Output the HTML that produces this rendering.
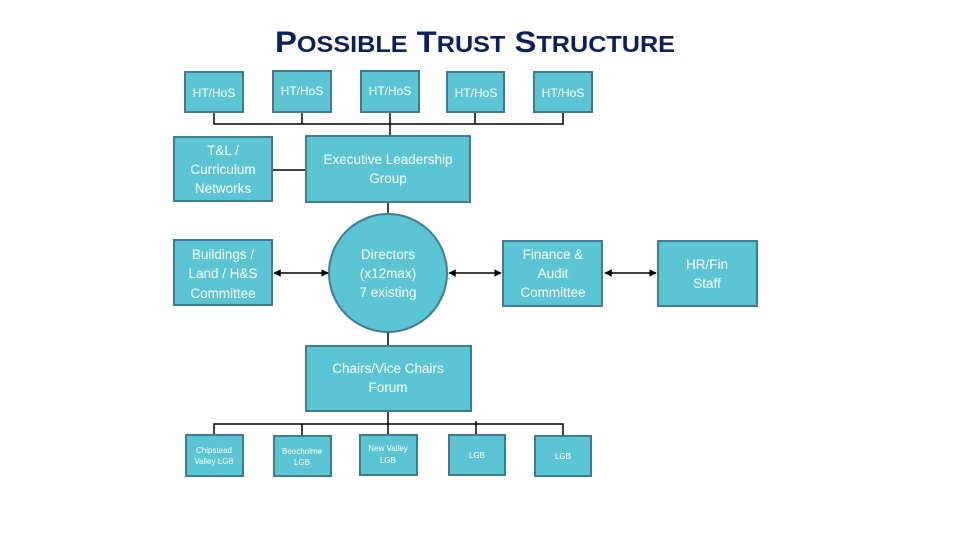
<!DOCTYPE html>
<html><head><meta charset="utf-8"><style>
html,body{margin:0;padding:0;background:#fff;width:960px;height:540px;overflow:hidden}
svg{display:block}
text{font-family:"Liberation Sans",sans-serif;fill:#fff;text-anchor:middle}
.b{fill:#5bc5d4;stroke:#3d7c93;stroke-width:2}
.l{stroke:#000;stroke-width:1.5;fill:none}
</style></head><body>
<svg width="960" height="540" viewBox="0 0 960 540">
<defs>
<marker id="a" viewBox="0 0 10 10" refX="9" refY="5" markerWidth="5" markerHeight="5" orient="auto-start-reverse"><path d="M0,0L10,5L0,10z" fill="#000"/></marker>
</defs>
<text x="475" y="52" style="fill:#0d1f5a;font-weight:bold;font-size:30px" textLength="400" lengthAdjust="spacingAndGlyphs">P<tspan font-size="23">OSSIBLE</tspan> T<tspan font-size="23">RUST</tspan> S<tspan font-size="23">TRUCTURE</tspan></text>

<!-- top bus -->
<path class="l" d="M214 112V124H563V112M302 112V124M390 112V136M475 112V124"/>
<!-- bottom bus -->
<path class="l" d="M214 435V424H563V435M302 435V424M388 411V435M476 435V421"/>
<path class="l" d="M272 170H305M388 202V214M388 332V345"/>
<path class="l" d="M274 273H328" marker-start="url(#a)" marker-end="url(#a)"/>
<path class="l" d="M449 273H501" marker-start="url(#a)" marker-end="url(#a)"/>
<path class="l" d="M605 273H656" marker-start="url(#a)" marker-end="url(#a)"/>

<g font-size="12">
<rect class="b" x="185" y="72" width="58" height="40"/><text x="214" y="97">HT/HoS</text>
<rect class="b" x="273" y="71" width="58" height="41"/><text x="302" y="95">HT/HoS</text>
<rect class="b" x="361" y="71" width="58" height="41"/><text x="390" y="95">HT/HoS</text>
<rect class="b" x="447" y="72" width="57" height="40"/><text x="476" y="97">HT/HoS</text>
<rect class="b" x="534" y="72" width="58" height="40"/><text x="563" y="97">HT/HoS</text>
</g>
<g font-size="13.5">
<rect class="b" x="174" y="137" width="98" height="64"/>
<text x="223" y="155">T&amp;L /</text><text x="223" y="174">Curriculum</text><text x="223" y="193">Networks</text>
<rect class="b" x="306" y="136" width="164" height="66"/>
<text x="388" y="164">Executive Leadership</text><text x="388" y="183">Group</text>
<rect class="b" x="174" y="240" width="98" height="65"/>
<text x="223" y="259">Buildings /</text><text x="223" y="278">Land / H&amp;S</text><text x="223" y="298">Committee</text>
<circle class="b" cx="388" cy="273" r="59"/>
<text x="388" y="259">Directors</text><text x="388" y="278">(x12max)</text><text x="388" y="297">7 existing</text>
<rect class="b" x="503" y="241" width="99" height="65"/>
<text x="553" y="259">Finance &amp;</text><text x="553" y="278">Audit</text><text x="553" y="297">Committee</text>
<rect class="b" x="658" y="241" width="99" height="65"/>
<text x="707" y="269">HR/Fin</text><text x="707" y="288">Staff</text>
<rect class="b" x="306" y="346" width="165" height="65"/>
<text x="388" y="373">Chairs/Vice Chairs</text><text x="388" y="392">Forum</text>
</g>
<g font-size="8">
<rect class="b" x="186" y="435" width="57" height="41"/><text x="214" y="453">Chipstead</text><text x="214" y="464">Valley LGB</text>
<rect class="b" x="274" y="436" width="57" height="40"/><text x="302" y="454">Beecholme</text><text x="302" y="465">LGB</text>
<rect class="b" x="360" y="435" width="57" height="40"/><text x="388" y="451">New Valley</text><text x="388" y="463">LGB</text>
<rect class="b" x="449" y="435" width="56" height="40"/><text x="477" y="458">LGB</text>
<rect class="b" x="535" y="436" width="56" height="40"/><text x="563" y="459">LGB</text>
</g>
</svg>
</body></html>
